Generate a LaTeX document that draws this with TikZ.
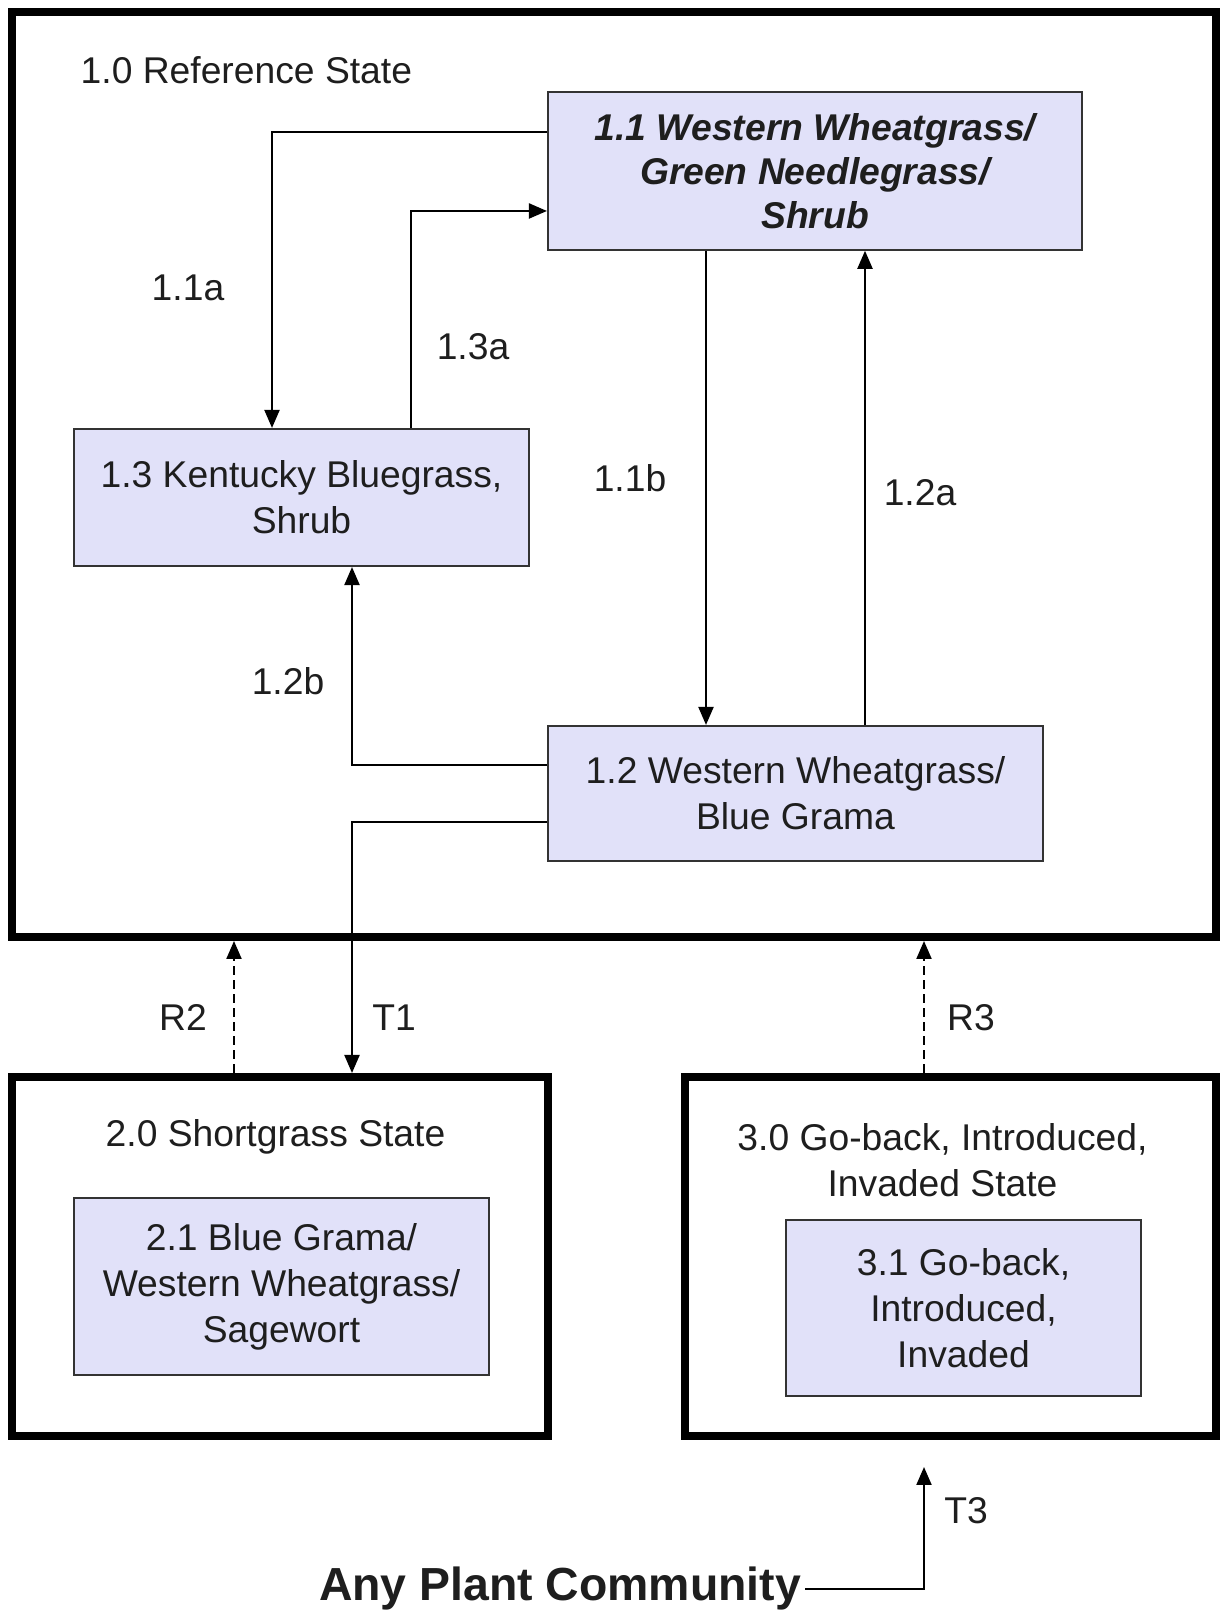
\documentclass[tikz,border=0pt]{standalone}
\usepackage{fontspec}
\setmainfont{Liberation Sans}
\usetikzlibrary{arrows.meta}
\usetikzlibrary{calc}
\definecolor{boxfill}{RGB}{225, 225, 249}
\definecolor{ink}{RGB}{30, 30, 30}
\tikzset{
    state/.style = {draw=black, line width=0.08cm, rectangle, inner sep=0pt},
    community/.style = {draw=black!80, line width=0.6pt, fill=boxfill, rectangle,
        align=center, text=ink, font=\fontsize{10.6}{13.1}\selectfont},
    lbl/.style = {text=ink, font=\fontsize{10.6}{13.1}\selectfont, inner sep=0pt},
    arr/.style = {black, line width=0.6pt, -{Triangle[length=0.18cm, width=0.15cm]}},
    dasharr/.style = {arr, dash pattern=on 0.09cm off 0.05cm}
}

\begin{document}
\begin{tikzpicture}

    \useasboundingbox (0,0) rectangle (12.2,16.11);
    \fill[white] (0,0) rectangle (12.2,16.11);

    % states
    \node[state, minimum width=12.04cm, minimum height=9.25cm] (ref) at (6.14,11.365) {};
    \node[state, minimum width=5.36cm, minimum height=3.59cm] (short) at (2.80,3.545) {};
    \node[state, minimum width=5.31cm, minimum height=3.59cm] (goback) at (9.505,3.545) {};

    \node[lbl, anchor=west] (reftitle) at (0.80,15.41) {1.0 Reference State};
    \node[lbl] (shorttitle) at (2.755,4.74) {2.0 Shortgrass State};
    \node[lbl, align=center] (gobacktitle) at (9.425,4.51) {3.0 Go-back, Introduced,\\Invaded State};

    % plant communities
    \node[community, minimum width=5.34cm, minimum height=1.575cm, font=\fontsize{10.6}{12.6}\selectfont\bfseries\itshape] (wwgn) at (8.15,14.40)
        {1.1 Western Wheatgrass/\\Green Needlegrass/\\Shrub};
    \node[community, minimum width=4.55cm, minimum height=1.37cm] (kbs) at (3.015,11.135)
        {1.3 Kentucky Bluegrass,\\Shrub};
    \node[community, minimum width=4.95cm, minimum height=1.35cm] (wwbg) at (7.955,8.175)
        {1.2 Western Wheatgrass/\\Blue Grama};
    \node[community, minimum width=4.15cm, minimum height=1.77cm] (bgww) at (2.815,3.245)
        {2.1 Blue Grama/\\Western Wheatgrass/\\Sagewort};
    \node[community, minimum width=3.55cm, minimum height=1.76cm] (gbii) at (9.635,3.03)
        {3.1 Go-back,\\Introduced,\\Invaded};

    \node[lbl, inner sep=1pt, font=\fontsize{13.2}{16}\selectfont\bfseries] (any) at (5.60,0.22) {Any Plant Community};

    % pathways
    \draw[arr] ([yshift=0.39cm]wwgn.west) -| ([xshift=-0.295cm]kbs.north);
    \draw[arr] ([xshift=1.095cm]kbs.north) |- ([yshift=-0.40cm]wwgn.west);
    \draw[arr] ([xshift=-1.09cm]wwgn.south) -- ([xshift=-1.09cm]wwgn.south |- wwbg.north);
    \draw[arr] ([xshift=0.50cm]wwgn.south |- wwbg.north) -- ([xshift=0.50cm]wwgn.south);
    \draw[arr] ([yshift=0.285cm]wwbg.west) -| ([xshift=0.505cm]kbs.south);

    % transitions and restorations
    \draw[arr] ([yshift=-0.285cm]wwbg.west) -| ([xshift=0.72cm]short.north);
    \draw[dasharr] ([xshift=-0.46cm]short.north) -- ([xshift=-0.46cm]short.north |- ref.south);
    \draw[dasharr] ([xshift=-0.265cm]goback.north) -- ([xshift=-0.265cm]goback.north |- ref.south);
    \draw[arr, shorten >=0.27cm] (any.east) -| ([xshift=-0.265cm]goback.south);

    \node[lbl] (l11a) at (1.88,13.23) {1.1a};
    \node[lbl] (l13a) at (4.73,12.64) {1.3a};
    \node[lbl] (l11b) at (6.30,11.33) {1.1b};
    \node[lbl] (l12a) at (9.20,11.18) {1.2a};
    \node[lbl] (l12b) at (2.88,9.30) {1.2b};
    \node[lbl] (lr2) at (1.83,5.93) {R2};
    \node[lbl] (lt1) at (3.94,5.93) {T1};
    \node[lbl] (lr3) at (9.71,5.93) {R3};
    \node[lbl] (lt3) at (9.66,1.00) {T3};

\end{tikzpicture}
\end{document}
